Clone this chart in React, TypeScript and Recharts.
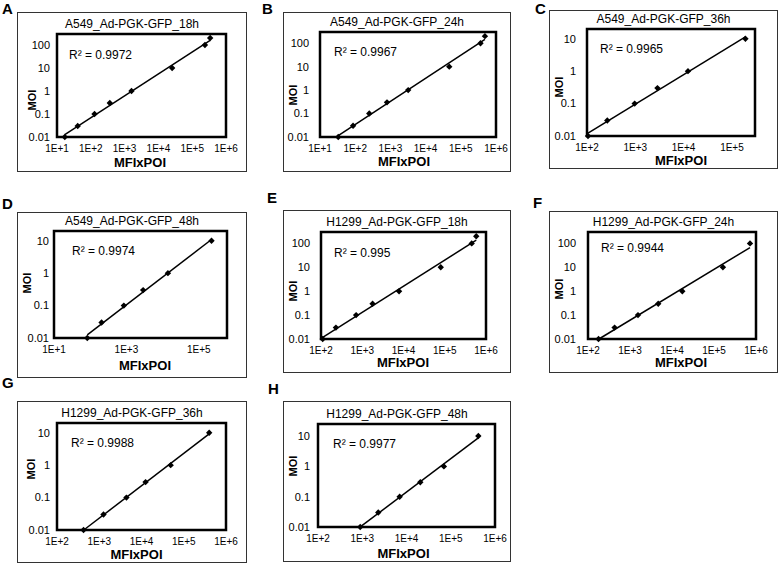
import React from 'react';
import { ScatterChart, Scatter, XAxis, YAxis, ReferenceArea } from 'recharts';

const FONT = '"Liberation Sans", Arial, Helvetica, sans-serif';

const moiA = [0.01, 0.03, 0.1, 0.3, 1, 10, 100, 200];
const mfiA = [17, 41, 129, 365, 1600, 25500, 238000, 340000];
const moiB = [0.01, 0.03, 0.1, 0.3, 1, 10, 100, 200];
const mfiB = [33, 87, 251, 800, 3200, 47000, 363000, 485000];
const moiC = [0.01, 0.03, 0.1, 0.3, 1, 10];
const mfiC = [105, 263, 970, 2870, 12300, 190000];
const moiD = [0.01, 0.03, 0.1, 0.3, 1, 10];
const mfiD = [83, 206, 850, 2900, 14000, 224000];
const moiE = [0.01, 0.03, 0.1, 0.3, 1, 10, 100, 200];
const mfiE = [110, 230, 710, 1780, 7800, 80000, 450000, 580000];
const moiF = [0.01, 0.03, 0.1, 0.3, 1, 10, 100];
const mfiF = [178, 430, 1550, 4700, 17600, 163000, 720000];
const moiG = [0.01, 0.03, 0.1, 0.3, 1, 10];
const mfiG = [425, 1260, 4400, 12500, 49000, 400000];
const moiH = [0.01, 0.03, 0.1, 0.3, 1, 10];
const mfiH = [900, 2300, 7000, 20500, 70000, 420000];

const titles = [
  'A549_Ad-PGK-GFP_18h', 'A549_Ad-PGK-GFP_24h', 'A549_Ad-PGK-GFP_36h', 'A549_Ad-PGK-GFP_48h',
  'H1299_Ad-PGK-GFP_18h', 'H1299_Ad-PGK-GFP_24h', 'H1299_Ad-PGK-GFP_36h', 'H1299_Ad-PGK-GFP_48h',
];
const r2Values = ['0.9972', '0.9967', '0.9965', '0.9974', '0.995', '0.9944', '0.9988', '0.9977'];
const letters = ['A', 'B', 'C', 'D', 'E', 'F', 'G', 'H'];

// ticks de los ejes log
const yTicksLarge = [0.01, 0.1, 1, 10, 100];
const yTicksSmall = [0.01, 0.1, 1, 10];
const xTicks1to6 = [10, 100, 1e3, 1e4, 1e5, 1e6];
const xTicks2to6 = [100, 1e3, 1e4, 1e5, 1e6];
const xTicks2to5 = [100, 1e3, 1e4, 1e5];
const xTicksOdd = [10, 1e3, 1e5];

interface Panel {
  xs: number[];
  ys: number[];
  xDomain: [number, number];
  yDomain: [number, number];
  xTicks: number[];
  yTicks: number[];
  box: [number, number, number, number]; // x, y, w, h
  plot: [number, number, number, number]; // left, top, right, bottom
  yGap: number;
  r2At: [number, number];
  moiAt: [number, number];
  xLabelAt: [number, number];
  letterAt: [number, number];
}

const panels: Panel[] = [
  { xs: mfiA, ys: moiA, xDomain: [10, 1e6], yDomain: [0.01, 300], xTicks: xTicks1to6, yTicks: yTicksLarge,
    box: [17, 12, 230, 160], plot: [57, 34, 226, 137], yGap: 7, r2At: [12, 25],
    moiAt: [15, 88], xLabelAt: [123, 155], letterAt: [2, 0] },
  { xs: mfiB, ys: moiB, xDomain: [10, 1e6], yDomain: [0.01, 300], xTicks: xTicks1to6, yTicks: yTicksLarge,
    box: [283, 12, 228, 160], plot: [320, 32, 496, 137], yGap: 11, r2At: [14, 24],
    moiAt: [9.5, 83], xLabelAt: [121, 154], letterAt: [262, 0] },
  { xs: mfiC, ys: moiC, xDomain: [100, 3e5], yDomain: [0.01, 20], xTicks: xTicks2to5, yTicks: yTicksSmall,
    box: [549, 10, 229, 159], plot: [587, 29, 755, 136], yGap: 11, r2At: [13, 24],
    moiAt: [9.5, 77], xLabelAt: [132, 155], letterAt: [535, 0] },
  { xs: mfiD, ys: moiD, xDomain: [10, 6e5], yDomain: [0.01, 20], xTicks: xTicksOdd, yTicks: yTicksSmall,
    box: [17, 212, 230, 166], plot: [54, 231, 227, 338], yGap: 5, r2At: [18, 24],
    moiAt: [10, 71], xLabelAt: [128, 158], letterAt: [2, 195] },
  { xs: mfiE, ys: moiE, xDomain: [100, 1e6], yDomain: [0.01, 300], xTicks: xTicks2to6, yTicks: yTicksLarge,
    box: [283, 210, 228, 163], plot: [321, 232, 486, 339], yGap: 11, r2At: [13, 25],
    moiAt: [9.5, 81], xLabelAt: [120, 157], letterAt: [267, 189] },
  { xs: mfiF, ys: moiF, xDomain: [100, 1e6], yDomain: [0.01, 300], xTicks: xTicks2to6, yTicks: yTicksLarge,
    box: [549, 211, 229, 162], plot: [588, 232, 756, 339], yGap: 12, r2At: [13, 20],
    moiAt: [9.5, 78], xLabelAt: [132, 156], letterAt: [533, 194] },
  { xs: mfiG, ys: moiG, xDomain: [100, 1e6], yDomain: [0.01, 20], xTicks: xTicks2to6, yTicks: yTicksSmall,
    box: [17, 401, 230, 162], plot: [57, 423, 226, 530], yGap: 7, r2At: [14, 24],
    moiAt: [14, 68], xLabelAt: [119.5, 158], letterAt: [2, 374] },
  { xs: mfiH, ys: moiH, xDomain: [100, 1e6], yDomain: [0.01, 25], xTicks: xTicks2to6, yTicks: yTicksSmall,
    box: [283, 401, 228, 161], plot: [318, 424, 495, 527], yGap: 8, r2At: [15, 24],
    moiAt: [9.5, 65], xLabelAt: [120.5, 157], letterAt: [268, 380] },
];

// linea de tendencia potencial (ajuste lineal en log-log, como Excel),
// recortada al borde inferior del eje y
const powerTrend = (xs: number[], ys: number[], yMin: number) => {
  const lx = xs.map(Math.log10);
  const ly = ys.map(Math.log10);
  const n = lx.length;
  const mx = lx.reduce((a, b) => a + b, 0) / n;
  const my = ly.reduce((a, b) => a + b, 0) / n;
  let sxy = 0;
  let sxx = 0;
  for (let i = 0; i < n; i++) {
    sxy += (lx[i] - mx) * (ly[i] - my);
    sxx += (lx[i] - mx) * (lx[i] - mx);
  }
  const slope = sxy / sxx;
  const yAt = (x: number) => Math.pow(10, my + slope * (Math.log10(x) - mx));
  let x0 = Math.min(...xs);
  if (yAt(x0) < yMin) {
    x0 = Math.pow(10, mx + (Math.log10(yMin) - my) / slope);
  }
  const x1 = Math.max(...xs);
  return [{ x: x0, y: Math.max(yAt(x0), yMin) }, { x: x1, y: yAt(x1) }];
};

const Diamond = (props: any) => {
  const { cx, cy } = props;
  return (
    <polygon
      points={`${cx},${cy - 3.2} ${cx + 3.2},${cy} ${cx},${cy + 3.2} ${cx - 3.2},${cy}`}
      fill="#000"
    />
  );
};

const formatX = (v: number) => `1E+${Math.round(Math.log10(v))}`;
const formatY = (v: number) => String(v);

const PanelChart: React.FC<{ p: Panel; idx: number }> = ({ p, idx }) => {
  const [bx, by, bw, bh] = p.box;
  const [pl, pt, pr, pb] = p.plot;
  const puntos = p.xs.map((x, i) => ({ x, y: p.ys[i] }));
  const tendencia = powerTrend(p.xs, p.ys, p.yDomain[0]);

  return (
    <>
      <div style={{
        position: 'absolute', left: p.letterAt[0], top: p.letterAt[1],
        fontSize: 15, fontWeight: 'bold', lineHeight: '17px',
      }}>
        {letters[idx]}
      </div>
      <div style={{
        position: 'absolute', left: bx, top: by, width: bw, height: bh,
        border: '1px solid #333', boxSizing: 'border-box',
      }} />
      <div style={{ position: 'absolute', left: bx, top: by, width: bw, height: bh }}>
        <ScatterChart
          width={bw}
          height={bh}
          margin={{ top: pt - by, right: bx + bw - pr, left: 0, bottom: 0 }}
        >
          <XAxis
            type="number"
            dataKey="x"
            scale="log"
            domain={p.xDomain}
            ticks={p.xTicks}
            tickFormatter={formatX}
            axisLine={false}
            tickLine={false}
            tickSize={4}
            tickMargin={4}
            height={by + bh - pb}
            tick={{ fontSize: 10, fill: '#000' }}
          />
          <YAxis
            type="number"
            dataKey="y"
            scale="log"
            domain={p.yDomain}
            ticks={p.yTicks}
            tickFormatter={formatY}
            axisLine={false}
            tickLine={false}
            tickSize={0}
            tickMargin={p.yGap}
            width={pl - bx}
            tick={{ fontSize: 11, fill: '#000' }}
          />
          <ReferenceArea
            x1={p.xDomain[0]}
            x2={p.xDomain[1]}
            y1={p.yDomain[0]}
            y2={p.yDomain[1]}
            fill="none"
            fillOpacity={0}
            stroke="#000"
            strokeWidth={2.5}
          />
          <Scatter
            data={tendencia}
            line={{ stroke: '#000', strokeWidth: 1.5 }}
            shape={() => <g />}
            isAnimationActive={false}
          />
          <Scatter data={puntos} shape={Diamond} isAnimationActive={false} />
        </ScatterChart>
      </div>
      {/* titulo del panel, encima del marco */}
      <div style={{
        position: 'absolute', left: bx, top: pt - 6 - 11, width: bw,
        textAlign: 'center', fontSize: 12, lineHeight: '14px',
      }}>
        {titles[idx]}
      </div>
      {/* R cuadrado */}
      <div style={{
        position: 'absolute', left: pl + p.r2At[0], top: pt + p.r2At[1] - 11,
        fontSize: 12, lineHeight: '14px', whiteSpace: 'nowrap',
      }}>
        R² = {r2Values[idx]}
      </div>
      {/* titulos de ejes */}
      <div style={{
        position: 'absolute', left: bx + p.moiAt[0], top: by + p.moiAt[1],
        transform: 'translate(-50%, -50%) rotate(-90deg)',
        fontSize: 11, fontWeight: 'bold', lineHeight: '12px',
      }}>
        MOI
      </div>
      <div style={{
        position: 'absolute', left: bx + p.xLabelAt[0], top: by + p.xLabelAt[1] - 10.8,
        transform: 'translateX(-50%)',
        fontSize: 13, fontWeight: 'bold', lineHeight: '13px', whiteSpace: 'nowrap',
      }}>
        MFIxPOI
      </div>
    </>
  );
};

const App: React.FC = () => {
  return (
    <div style={{
      position: 'absolute', left: 0, top: 0, width: 778, height: 563,
      background: '#fff', fontFamily: FONT, color: '#000', overflow: 'hidden',
    }}>
      {panels.map((p, i) => (
        <PanelChart key={i} p={p} idx={i} />
      ))}
    </div>
  );
};

export default App;
